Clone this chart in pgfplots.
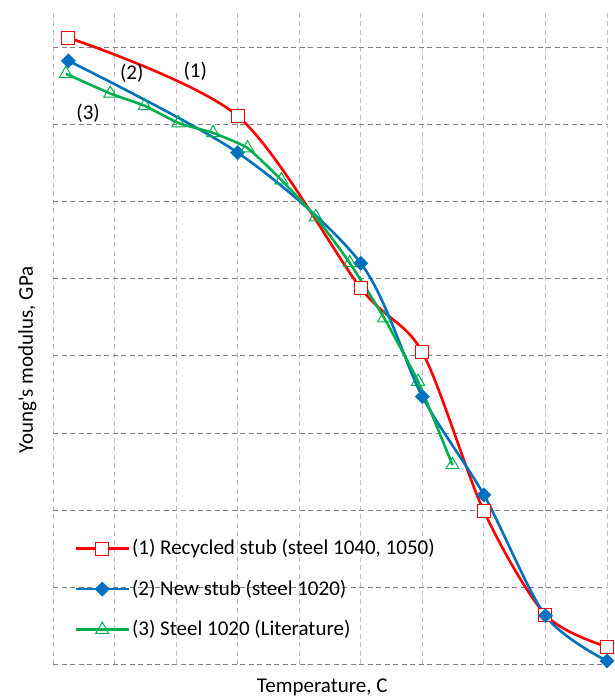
\documentclass[border=0pt]{standalone}
\usepackage{pgfplots}
\pgfplotsset{compat=1.18}
\usepackage{fontspec}
\setmainfont{Carlito}[Ligatures=TeXOff]
\definecolor{cred}{HTML}{FF0000}
\definecolor{cblue}{HTML}{0070C0}
\definecolor{cgreen}{HTML}{00B050}
\begin{document}
\fontsize{21}{25}\selectfont
\begin{tikzpicture}
\useasboundingbox (0,0) rectangle (615pt,698pt);
\begin{axis}[
    at={(53pt,34pt)}, anchor=south west,
    scale only axis,
    width=554pt, height=654pt,
    xmin=0, xmax=900, ymin=0, ymax=212.3,
    xtick={0,100,...,900}, ytick={0,25,...,200},
    xticklabels={}, yticklabels={},
    major tick length=0pt,
    axis line style={draw=none},
    xmajorgrids, ymajorgrids,
    x grid style={dash pattern=on 5pt off 3.5pt, color=black!25, line width=0.9pt},
    y grid style={dash pattern=on 5pt off 3.5pt, color=black!50, line width=0.9pt},
    xlabel={Temperature, C},
    ylabel={Young's modulus, GPa},
    xlabel style={at={(axis description cs:0.486,-0.035)}, anchor=center},
    ylabel style={at={(axis description cs:-0.046,0.465)}, anchor=center, rotate=0},
    legend style={draw=none, fill=none, at={(axis description cs:0.033,0.197)},
        anchor=north west, row sep=18pt, font=\fontsize{21}{25}\selectfont,
        nodes={inner sep=2pt}},
    legend cell align=left,
    legend image code/.code={\draw[mark repeat=2,mark phase=2,#1]
        plot coordinates {(0pt,0pt) (26.5pt,0pt) (53pt,0pt)};},
    every axis plot/.append style={line width=2.6pt},
]
\addplot[color=cred, smooth, mark=square*, mark size=6.5pt,
    mark options={fill=white, draw=cred, line width=1pt}]
    coordinates {(25,203.3) (300,177.9) (500,122.0) (600,101.2) (700,49.6) (800,16.0) (900,5.6)};
\addlegendentry{(1) Recycled stub (steel 1040, 1050)}
\addplot[color=cblue, smooth, mark=square*, mark size=5pt,
    mark options={rotate=45, fill=cblue, line width=0.5pt}]
    coordinates {(25,195.8) (300,166.0) (500,130.1) (600,86.8) (700,54.9) (800,15.7) (900,1.0)};
\addlegendentry{(2) New stub (steel 1020)}
\addplot[color=cgreen, smooth, tension=0.3, mark=triangle, mark size=7.5pt,
    mark options={line width=1pt}]
    coordinates {(21,191.6) (93,185.2) (149,181.2) (204,175.6) (260,172.4) (316,167.5)
    (371,157.1) (427,145.1) (482,130.2) (538,112.3) (593,91.7) (649,64.6)};
\addlegendentry{(3) Steel 1020 (Literature)}
\node at (axis cs:231,192.5) {(1)};
\node at (axis cs:128,191.6) {(2)};
\node at (axis cs:57,178.9) {(3)};
\end{axis}
\end{tikzpicture}
\end{document}
